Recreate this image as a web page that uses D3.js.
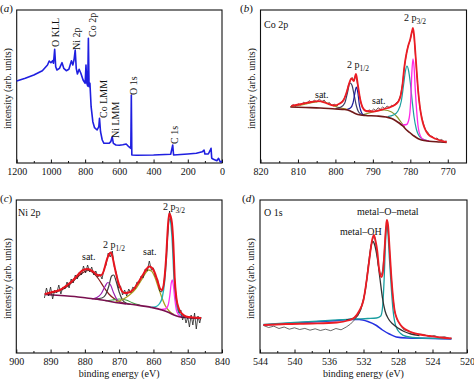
<!DOCTYPE html>
<html>
<head>
<meta charset="utf-8">
<script src="https://cdn.jsdelivr.net/npm/d3@7"></script>
<style>
  body { margin: 0; background: #fff; }
  svg text { font-family: "Liberation Serif", "Times New Roman", serif; fill: #111; }
</style>
</head>
<body>
<svg id="chart" width="474" height="379"></svg>
<script>
// (a) survey spectrum, [binding energy, intensity]
const surveyLine = [
  [1200,82],[1150,84.7],[1100,88],[1050,92.3],[1020,98],[1010,102],[1000,100.3],[990,102.3],[985,99.7],
  [978,113.7],[972,96.3],[965,93],[950,94.7],[935,100.3],[925,94.7],[910,92.3],[895,93.7],[880,102.3],
  [872,98],[865,103],[858,113],[852,94.7],[845,89],[835,93.7],[825,89.7],[812,83],[800,79.7],[795,98],
  [790,79.7],[785,77],[781,124.7],[777,76.3],[772,79.7],[765,56.3],[755,41.3],[745,35.3],[730,33],
  [720,36.3],[716,44.7],[710,31.3],[700,23],[690,19.7],[660,19.7],[650,21.3],[642,26.3],[635,19.7],
  [620,18],[600,17.7],[580,18.3],[560,19],[545,16.3],[533,14.7],[530,68],[527,8],[500,7.7],[400,8],
  [300,8.7],[288,18],[283,8],[200,9],[150,9.7],[115,11.3],[105,13],[100,9],[80,9],[70,12.3],[64,14.7],
  [60,4.7],[50,3.7],[30,2.3],[20,4.7],[10,1],[0,1.7]
];
const surveyPeaks = ["O KLL", "Ni 2p", "Co 2p", "Co LMM", "Ni LMM", "O 1s", "C 1s"];
const surveyPeakPos = [[55,47],[76.5,50],[92,37],[103,118],[115,138],[133,95],[174.5,144]];

// (b) Co 2p
const coData = [
  [812,56],[811.3,58.5],[810.6,56.8],[810,59.2],[809.2,58],[808.5,60.8],[807.8,59.3],[807,62.4],[806.3,60.2],
  [805.6,63],[805,61],[804.3,64],[803.6,61.5],[803,63],[802.3,59.2],[801.6,60.5],[801,57.5],[800.3,58.8],
  [799.6,56.8],[799,59.5],[798.3,60.8],[797.7,64.5],[797.1,69],[796.6,77],[796,82.5],[795.5,85.5],[795,82],
  [794.6,88],[794.2,81],[793.8,72],[793.3,62],[792.8,55.5],[792.2,53.5],[791.6,51],[791,53.2],[790.4,51.8],
  [789.8,54],[789.2,52.5],[788.6,55.2],[788,53.8],[787.4,56],[786.8,54.5],[786.2,57],[785.6,55.5],[785,57.8],
  [784.4,57],[783.8,60.2],[783.2,61.5],[782.6,68],[782.1,79],[781.6,95],[781.1,108],[780.6,117],[780.1,122],
  [779.7,129],[779.3,133],[779,127],[778.7,111],[778.3,90],[777.9,71],[777.4,54],[776.9,45],[776.4,38],
  [775.9,33],[775.3,30.5],[774.7,27.2],[774.1,26.5],[773.5,24.1],[772.9,25],[772.2,22.8],[771.6,23.5],
  [771,21.5],[770.3,22]
];
const coFit = [
  [811.8,57],[809,59],[806.5,61],[804.5,61.8],[802.5,60],[800.5,57.5],[798.8,59.5],[797.8,63],[796.9,72],
  [796.3,80],[795.7,84.5],[795.1,82],[794.5,89],[794,78],[793.4,64],[792.8,56],[791.8,52],[790,51.5],
  [788,53],[786,55],[784.4,57.5],[783.3,61],[782.6,67],[782.1,78],[781.6,96],[781,110],[780.5,118],
  [780,124],[779.6,131],[779.3,135],[779,128],[778.7,113],[778.3,92],[777.9,72],[777.4,55],[776.9,44],
  [776.2,35],[775.2,28.5],[774,25.5],[772.8,23.5],[771.5,22],[770.3,21]
];
const coBackground = [
  [812,56],[808,55.5],[804,55],[800,54],[797.5,53.5],[796,52],[795,50],[794,48.5],[792,47.5],[789,47],
  [786.5,46],[785,44.5],[784,42.5],[783,40],[782,37],[781,33],[780,30],[779,27],[778,24.5],[777,23],
  [775,21.8],[772,21],[770.3,20.5]
];
const coP12a = [[800,54.5],[798.5,56],[797.5,60],[796.8,70],[796.1,80],[795.6,78],[795,68],[794.4,57],[793.8,51],[793,48.5]];
const coP12b = [[797,53.5],[796,55],[795.3,60],[794.8,70],[794.4,76],[794,70],[793.6,58],[793.1,51],[792.5,48],[791.5,47.5]];
const coSat1 = [[812,56.5],[809,58],[806,60.5],[804,61.5],[802,59.5],[800,56.5],[798.5,55],[797,54]];
const coSat2 = [[793,48],[791,50],[789,52],[787,53],[785,51],[783.5,46],[782.5,41],[781.5,36]];
const coP32a = [
  [786,46.5],[784.5,48],[783.3,52],[782.4,62],[781.8,78],[781.3,92],[780.9,97],[780.5,93],[780,80],
  [779.5,62],[779,46],[778.4,34],[777.8,28],[777,24.5],[775.5,22.5]
];
const coP32b = [
  [783,40.5],[782,38],[781,38.5],[780.3,45],[779.9,62],[779.6,90],[779.3,104],[779,96],[778.7,75],
  [778.3,52],[777.9,36],[777.3,27],[776.5,23.5],[775,22]
];

// (c) Ni 2p
const niData = [
  [891.8,55],[891.2,65],[890.6,57],[890,66],[889.4,54],[888.8,63],[888.2,60],[887.6,68],[887,59],[886.4,66],
  [885.8,64],[885.2,71],[884.6,65],[884,74],[883.4,70],[882.8,78],[882.2,74],[881.6,81],[881,78],[880.4,87],
  [879.8,80],[879.2,88],[878.6,81],[878,86],[877.4,78],[876.8,82],[876.2,76],[875.6,79],[875,74],[874.4,84],
  [873.8,88],[873.2,100],[872.6,96],[872,102],[871.4,86],[870.8,80],[870.2,65],[869.6,67],[869,58],[868.4,63],
  [867.8,57],[867.2,64],[866.6,60],[866,66],[865.4,64],[864.8,71],[864.2,70],[863.6,77],[863,75],[862.4,84],
  [861.8,82],[861.2,92],[860.6,83],[860,85],[859.4,76],[858.8,74],[858.2,62],[857.6,61],[857,68],[856.5,85],
  [856,110],[855.6,132],[855.3,142],[855,134],[854.6,128],[854.2,104],[853.8,72],[853.4,56],[853,48],
  [852.5,40],[852,43],[851.5,33],[851,38],[850.5,30],[850,36],[849.5,26],[849,38],[848.5,28],[848,40],
  [847.5,24],[847,37],[846.5,30],[846.1,36]
];
const niFit = [
  [891.7,59],[889.5,61],[887.3,63],[885.5,67],[883.4,73],[881.8,79],[880.5,83],[879.1,84],[877.6,81.3],
  [876.3,78],[875.4,77.5],[874.5,82],[873.7,92],[873,98.5],[872.5,100.5],[872,97],[871.5,89],[870.8,78],
  [870,68],[869.2,62],[868.4,60],[867.2,60.5],[866,63],[864.5,70],[863.1,78],[862,84],[861.2,86.5],
  [860.4,85],[859.7,81],[858.8,72],[858,64],[857.4,63],[856.8,74],[856.3,95],[855.8,125],[855.4,139.5],
  [855,137],[854.6,130],[854.2,110],[853.8,75],[853.3,55],[852.6,44.5],[851.6,39],[850.5,36.5],
  [848.5,35.5],[846.1,35]
];
const niBackground = [
  [891.7,58.5],[887,57.5],[883,56.5],[879.5,55],[875,53],[870,50],[865,48],[860.5,45.5],[857.5,43],
  [855.5,40.5],[854,38],[852.5,36.3],[850,35.3],[846.1,34.5]
];
const niSat1 = [
  [891.7,59],[889,60.5],[886,64.5],[883.5,71.5],[881.5,78],[880,81.5],[879,82.5],[877.5,80],[876,74],
  [874.5,66],[873,59],[871.5,54.5],[870,51.5],[868,49.5]
];
const niP12a = [[878,54],[876.5,55.5],[875.3,59],[874.2,66],[873.3,70.5],[872.5,68],[871.6,60],[870.6,53],[869.5,50],[868,49]];
const niP12b = [[877,54],[875,55],[874,58],[873,67],[872.2,77],[871.6,78],[870.9,72],[870,61],[869,53],[868,50],[866.5,48.5]];
const niP12c = [[874,52],[872,53],[870,54],[868,53],[866,50],[864,48]];
const niSat2 = [
  [871,51],[869,53.5],[867,58],[865,65],[863.5,73],[862.3,80],[861.5,83],[860.6,82],[859.6,76],[858.6,66],
  [857.6,56],[856.5,47],[855.3,41.5],[854,38.5]
];
const niP32a = [
  [861,45.5],[859.5,46],[858.3,49],[857.4,56],[856.7,72],[856.2,95],[855.8,120],[855.3,134],[854.9,128],
  [854.5,110],[854.1,80],[853.7,58],[853.2,46],[852.5,40],[851.5,37],[850,35.5]
];
const niP32b = [[858,43.5],[856.5,44],[855.7,48],[855.2,58],[854.8,70],[854.5,73],[854.2,68],[853.8,55],[853.3,43],[852.6,38],[851.5,36]];

// (d) O 1s
const oData = [
  [543.6,27.5],[543,25.5],[542.4,26.8],[541.8,24.5],[541.2,26],[540.6,23.8],[540,25.2],[539.4,23.5],
  [538.8,24.6],[538.2,22.8],[537.6,24.2],[537,22.5],[536.4,23.8],[535.8,22.3],[535.2,24.5],[534.6,23.2],
  [534,26],[533.5,29],[533,33.5],[532.6,38],[532.2,48],[531.9,58],[531.6,74],[531.3,94],[531.1,108],
  [530.9,115],[530.7,116],[530.5,104],[530.3,88],[530.1,80],[529.95,78],[529.8,82],[529.6,100],
  [529.45,120],[529.3,131],[529.15,124],[529,106],[528.8,78],[528.6,57],[528.4,42],[528.1,33],
  [527.7,27.5],[527.3,23],[526.8,22],[526.2,19.8],[525.6,19],[525,18.5],[524.4,16.2],[523.8,17.5],
  [523.2,15.5],[522.6,16.3],[522,14.5],[521.8,15]
];
const oFit = [
  [543.6,28],[541,29],[538,29.5],[535.1,30.5],[533.8,32.5],[533.1,35],[532.5,42],[532,53],[531.6,75],
  [531.3,95],[531,113],[530.8,118],[530.6,112],[530.4,102],[530.2,85],[530,77],[529.9,76],[529.7,84],
  [529.55,105],[529.4,125],[529.3,133],[529.15,128],[529,108],[528.8,80],[528.6,58],[528.4,43],
  [528.1,34],[527.7,28],[527.2,24],[526.6,21.3],[525.5,18.5],[524.3,17],[523,15.5],[521.8,14.7]
];
const oBackground = [
  [543.6,28],[540,30],[537,31.5],[535,32.5],[533.5,33.5],[532.5,33.5],[531.5,31.5],[530.5,27.5],
  [529.8,23],[529,19],[528.2,16],[527,15],[524,14.5],[521.8,14]
];
const oLattice = [
  [543.6,28.5],[540,30.5],[536,32.5],[533,34],[531.5,34.5],[530.5,35],[530,37],[529.8,45],[529.6,75],
  [529.45,110],[529.3,128],[529.15,118],[529,95],[528.8,68],[528.6,45],[528.4,32],[528.1,24],[527.7,19.5],
  [527,16.5],[525.5,15],[523,14.5],[521.8,14.3]
];
const oHydroxyl = [
  [534,33],[533,35.5],[532.3,44],[531.8,62],[531.4,90],[531.1,108],[530.9,111.5],[530.7,108],[530.4,95],
  [530.1,75],[529.8,55],[529.5,42],[529.1,34],[528.6,29],[528,25],[527.3,21.5],[526.5,19],[525.5,17.5]
];

const svg = d3.select('#chart');
const FONT = 10;

function makePanel(p) {
  const x = d3.scaleLinear().domain(p.domain).range([p.left, p.right]);
  const y = d3.scaleLinear().domain([0, 153]).range([p.bottom, p.top]);
  const g = svg.append('g');

  // minor ticks
  g.append('g')
    .attr('transform', `translate(0,${p.bottom})`)
    .call(d3.axisBottom(x).tickValues(p.minor).tickSize(-2).tickFormat(''))
    .call(s => s.select('.domain').remove())
    .call(s => s.selectAll('line').attr('stroke', '#111'));
  // major ticks + labels
  g.append('g')
    .attr('transform', `translate(0,${p.bottom})`)
    .call(d3.axisBottom(x).tickValues(p.major).tickSize(-3.5).tickPadding(5).tickFormat(d3.format('d')))
    .call(s => s.select('.domain').remove())
    .call(s => s.selectAll('line').attr('stroke', '#111'))
    .call(s => s.selectAll('text').attr('font-size', FONT).attr('font-family', '"Liberation Serif", serif').attr('fill', '#111'));

  g.append('rect')
    .attr('x', p.left).attr('y', p.top)
    .attr('width', p.right - p.left).attr('height', p.bottom - p.top)
    .attr('fill', 'none').attr('stroke', '#111').attr('stroke-width', 1.1);

  g.append('text')
    .attr('transform', `translate(${p.ylabelX},${(p.top + p.bottom) / 2 + 2}) rotate(-90)`)
    .attr('text-anchor', 'middle').attr('dy', '0.35em')
    .attr('font-size', FONT)
    .text('intensity (arb. units)');

  const tag = g.append('text').attr('x', p.tagX).attr('y', p.top + 1.5).attr('font-size', 11);
  tag.append('tspan').text('(');
  tag.append('tspan').attr('font-style', 'italic').text(p.tag);
  tag.append('tspan').text(')');

  if (p.xlabel) {
    g.append('text')
      .attr('x', (p.left + p.right) / 2).attr('y', p.bottom + 23.5)
      .attr('text-anchor', 'middle').attr('font-size', FONT)
      .text('binding energy (eV)');
  }
  return { x, y, g };
}

function curve(panel, data, color, width, smooth) {
  const line = d3.line()
    .x(d => panel.x(d[0]))
    .y(d => panel.y(d[1]))
    .curve(smooth ? d3.curveMonotoneX : d3.curveLinear);
  panel.g.append('path')
    .datum(data)
    .attr('d', line)
    .attr('fill', 'none')
    .attr('stroke', color)
    .attr('stroke-width', width)
    .attr('stroke-linejoin', 'round');
}

function label(panel, px, py, main, sub) {
  const t = panel.g.append('text').attr('x', px).attr('y', py).attr('font-size', FONT);
  t.append('tspan').text(main);
  if (sub) t.append('tspan').attr('font-size', 7.5).attr('dy', 2.5).text(sub);
}

// ---- panel a
const pa = makePanel({
  domain: [1200, 0], left: 16.7, right: 222, top: 10, bottom: 163,
  major: d3.range(0, 1201, 200), minor: d3.range(100, 1200, 200),
  ylabelX: 7.5, tag: 'a', tagX: 0
});
curve(pa, surveyLine, '#1f1fe0', 1.6, false);
surveyPeaks.forEach((name, i) => {
  const [px, py] = surveyPeakPos[i];
  pa.g.append('text')
    .attr('transform', `translate(${px},${py}) rotate(-90)`)
    .attr('dy', '0.35em').attr('font-size', FONT)
    .text(name);
});

// ---- panel b
const pb = makePanel({
  domain: [820, 765], left: 260.5, right: 466.5, top: 10, bottom: 163,
  major: d3.range(770, 821, 10), minor: d3.range(775, 820, 10),
  ylabelX: 251.5, tag: 'b', tagX: 240
});
curve(pb, coSat1, '#a0a020', 1.2, true);
curve(pb, coSat2, '#8a9a30', 1.2, true);
curve(pb, coP12a, '#3c3c64', 1.2, true);
curve(pb, coP12b, '#1a1a9c', 1.2, true);
curve(pb, coP32a, '#1a9ea0', 1.2, true);
curve(pb, coP32b, '#ff28e6', 1.3, true);
curve(pb, coBackground, '#701818', 1.6, true);
curve(pb, coData, '#5a2a2a', 0.8, false);
curve(pb, coFit, '#ec1c24', 1.8, true);
label(pb, 264, 28, 'Co 2p');
label(pb, 347, 68, '2 p', '1/2');
label(pb, 404, 21, '2 p', '3/2');
label(pb, 315, 98, 'sat.');
label(pb, 372, 104, 'sat.');

// ---- panel c
const pc = makePanel({
  domain: [900, 840], left: 16.3, right: 222, top: 200, bottom: 353,
  major: d3.range(840, 901, 10), minor: d3.range(845, 900, 10),
  ylabelX: 7.5, tag: 'c', tagX: 0, xlabel: true
});
curve(pc, niSat1, '#8a1c1c', 1.2, true);
curve(pc, niP12c, '#40a040', 1.1, true);
curve(pc, niP12a, '#9a20b0', 1.2, true);
curve(pc, niP12b, '#404040', 1.2, true);
curve(pc, niSat2, '#a8a020', 1.3, true);
curve(pc, niP32a, '#20b4b8', 1.3, true);
curve(pc, niP32b, '#ff30f0', 1.3, true);
curve(pc, niBackground, '#7a1050', 1.6, true);
curve(pc, niData, '#222', 0.8, false);
curve(pc, niFit, '#e8141e', 2, true);
label(pc, 18, 216, 'Ni 2p');
label(pc, 82, 260, 'sat.');
label(pc, 103, 248, '2 p', '1/2');
label(pc, 143, 255, 'sat.');
label(pc, 163, 210, '2 p', '3/2');

// ---- panel d
const pd = makePanel({
  domain: [544, 520], left: 260, right: 467, top: 200, bottom: 353,
  major: d3.range(520, 545, 4), minor: d3.range(522, 544, 4),
  ylabelX: 250, tag: 'd', tagX: 242, xlabel: true
});
curve(pd, oBackground, '#2430e0', 1.5, true);
curve(pd, oLattice, '#1a9ea0', 1.3, true);
curve(pd, oHydroxyl, '#333', 1.3, true);
curve(pd, oData, '#444', 0.8, false);
curve(pd, oFit, '#ec1c24', 1.8, true);
label(pd, 264, 216, 'O 1s');
label(pd, 357, 215, 'metal–O–metal');
label(pd, 340, 235, 'metal–OH');
</script>
</body>
</html>
